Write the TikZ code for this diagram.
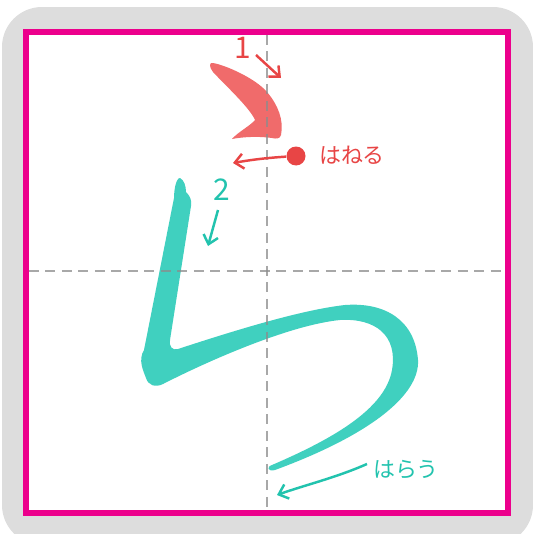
\documentclass[tikz,border=0pt]{standalone}
\usepackage{fontspec}
\newfontfamily\jpfont{Noto Sans CJK JP}
\usetikzlibrary{arrows.meta}

\definecolor{framepink}{HTML}{EC008C}
\definecolor{bggray}{HTML}{DDDDDD}
\definecolor{hanered}{HTML}{E84545}
\definecolor{strokered}{HTML}{F06B6B}
\definecolor{stroketeal}{HTML}{40D0BF}
\definecolor{harauteal}{HTML}{22C3AE}

\begin{document}
\begin{tikzpicture}[
    x=0.02cm, y=-0.02cm,
    guide/.style={gray!90, line width=0.8pt, dash pattern=on 0.2cm off 0.13cm, opacity=0.75},
    redarrow/.style={hanered, line width=1.4pt, -{Straight Barb[length=0.17cm, width=0.3cm]}},
    tealarrow/.style={harauteal, line width=1.4pt, -{Straight Barb[length=0.17cm, width=0.3cm]}},
    num/.style={font=\jpfont\fontsize{17pt}{17pt}\selectfont, inner sep=0pt},
    lbl/.style={font=\jpfont\fontsize{12.5pt}{12.5pt}\selectfont, inner sep=0pt},
  ]
\useasboundingbox (0,0) rectangle (533,534);

% sheet and writing box
\fill[bggray, rounded corners=0.8cm] (2,7) rectangle (533,545);
\fill[white] (26,32) rectangle (508,513);

% stroke 1
\fill[strokered]
  (213,63) .. controls (225,65) and (255,78) .. (267,92)
  .. controls (278,105) and (284,120) .. (281,135)
  .. controls (280,139) and (276,139) .. (272,138)
  .. controls (258,136) and (242,137) .. (232,139)
  .. controls (238,132) and (250,126) .. (255,120)
  .. controls (250,108) and (225,85) .. (213,72)
  .. controls (209,67) and (209,62) .. (213,63) -- cycle;

% stroke 2
\fill[stroketeal]
  (180,178) .. controls (184,180) and (186,186) .. (186,192)
  .. controls (190,196) and (192,200) .. (191,206)
  -- (170,340)
  .. controls (169,346) and (172,351) .. (178,349)
  .. controls (230,332) and (300,310) .. (345,305)
  .. controls (385,302) and (415,320) .. (418,360)
  .. controls (420,395) and (370,435) .. (275,470)
  .. controls (268,472) and (266,467) .. (272,465)
  .. controls (330,440) and (385,410) .. (392,370)
  .. controls (398,335) and (375,318) .. (340,320)
  .. controls (290,325) and (210,360) .. (163,384)
  .. controls (155,388) and (148,385) .. (146,378)
  .. controls (143,370) and (138,360) .. (144,350)
  -- (174,198)
  .. controls (174,190) and (176,178) .. (180,178) -- cycle;

% centre guides
\draw[guide] (267,35) -- (267,511);
\draw[guide] (29,271) -- (505,271);
\draw[framepink, line width=0.12cm] (26,32) rectangle (508,513);

% order and direction marks
\node[num, hanered] (num1) at (243,48) {1};
\coordinate (dir1s) at (256,55);
\coordinate (dir1e) at (281,78);
\draw[redarrow] (dir1s) -- (dir1e);

\node[num, harauteal] (num2) at (222,190) {2};
\coordinate (dir2s) at (218,210);
\coordinate (dir2e) at (208,246);
\draw[tealarrow] (dir2s) -- (dir2e);

% hane
\node[circle, fill=hanered, minimum size=0.38cm, inner sep=0pt] (hanedot) at (296,156) {};
\node[lbl, hanered] (hane) at (352,155) {はねる};
\coordinate (haneend) at (233,163);
\draw[redarrow] (hanedot) .. controls (265,158) and (250,160) .. (haneend);

% harai
\node[lbl, harauteal] (harau) at (406,470) {はらう};
\coordinate (haraus) at (367,464);
\coordinate (haraue) at (277,495);
\draw[tealarrow] (haraus) .. controls (335,478) and (305,485) .. (haraue);
\end{tikzpicture}
\end{document}
